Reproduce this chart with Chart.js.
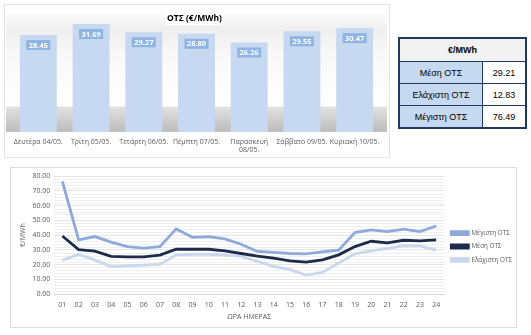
<!DOCTYPE html>
<html><head><meta charset="utf-8">
<script src="https://cdn.jsdelivr.net/npm/chart.js@4/dist/chart.umd.min.js"></script>
<style>
html,body{margin:0;padding:0;background:#fff;width:531px;height:335px;overflow:hidden;font-family:"Liberation Sans",Arial,sans-serif;}
#p1{position:absolute;left:4px;top:4px;width:386px;height:154px;border:1px solid #e3e3e3;box-sizing:border-box;}
#p2{position:absolute;left:10px;top:167px;width:507px;height:161px;border:1px solid #dcdcdc;box-sizing:border-box;}
#c1{position:absolute;left:5px;top:5px;}
#c2{position:absolute;left:11px;top:168px;}
canvas{display:block;}
#ttl{position:absolute;left:166px;top:10px;width:57px;height:15px;background:#fff;font:bold 8.5px "Open Sans",sans-serif;color:#000;text-align:center;line-height:15px;}
#tbl{position:absolute;left:398px;top:37px;border-collapse:collapse;border:2px solid #1f3864;font:9px "Liberation Sans",Arial,sans-serif;color:#000;}
#tbl td,#tbl th{border:1px solid #1f3864;text-align:center;padding:0;height:21px;}
#tbl th{background:#f2f2f2;font-weight:bold;height:22px;}
#tbl td.l{background:#c5d9f1;width:82px;}
#tbl td.v{background:#fff;width:42px;}
</style></head><body>
<div id="p1"></div>
<div id="p2"></div>
<canvas id="c1" width="384" height="155"></canvas>
<div id="ttl">ΟΤΣ (€/MWh)</div>
<table id="tbl"><tbody></tbody></table>
<canvas id="c2" width="511" height="159"></canvas>
<script>
const days = ['Δευτέρα 04/05.','Τρίτη 05/05.','Τετάρτη 06/05.','Πέμπτη 07/05.',['Παρασκευή','08/05.'],'Σάββατο 09/05.','Κυριακή 10/05.'];
const dayValues = [28.45,31.69,29.27,28.80,26.26,29.55,30.47];
const hours = ['01','02','03','04','05','06','07','08','09','10','11','12','13','14','15','16','17','18','19','20','21','22','23','24'];
const maxOTS  = [76.49,36.7,39.0,35.2,32.2,31.1,32.2,44.2,38.5,39.0,37.4,33.8,28.9,28.2,27.5,27.3,28.6,29.8,41.7,43.5,42.4,44.0,42.4,46.2];
const meanOTS = [39.4,30.2,29.1,25.5,25.2,25.2,26.4,30.4,30.4,30.4,29.3,27.5,25.7,24.3,22.5,21.6,23.2,26.6,32.2,35.8,34.7,36.5,36.1,36.7];
const minOTS  = [23.0,26.8,23.2,18.5,19.2,19.6,20.1,26.6,27.0,27.0,26.4,25.5,22.1,18.7,16.5,12.83,14.6,21.0,27.3,29.3,30.9,32.9,32.7,29.8];
const seriesNames = ['Μέγιστη ΟΤΣ','Μέση ΟΤΣ','Ελάχιστη ΟΤΣ'];
const tableHeader = '€/MWh';
const tableLabels = ['Μέση ΟΤΣ','Ελάχιστη ΟΤΣ','Μέγιστη ΟΤΣ'];
const tableValues = ['29.21','12.83','76.49'];

const tb = document.querySelector('#tbl tbody');
let h = '<tr><th colspan="2">'+tableHeader+'</th></tr>';
tableLabels.forEach((l,i)=>{ h += '<tr><td class="l">'+l+'</td><td class="v">'+tableValues[i]+'</td></tr>'; });
tb.innerHTML = h;

const bgShade = {
  id:'bgShade',
  beforeDatasetsDraw(chart){
    const {ctx, chartArea:a} = chart;
    ctx.save();
    let g = ctx.createLinearGradient(0,a.top,0,a.bottom);
    g.addColorStop(0,'#ffffff');
    g.addColorStop(0.15,'#eeeeee');
    g.addColorStop(0.35,'#f8f8f8');
    g.addColorStop(0.78,'#ffffff');
    g.addColorStop(0.8,'#e0e0e0');
    g.addColorStop(1,'#bcbcbc');
    ctx.fillStyle = g;
    ctx.fillRect(a.left-6,a.top,a.right-a.left+12,a.bottom-a.top);
    ctx.restore();
  }
};
const barLabels = {
  id:'barLabels',
  afterDatasetsDraw(chart){
    const {ctx} = chart;
    const meta = chart.getDatasetMeta(0);
    ctx.save();
    ctx.font = 'bold 7.5px "Open Sans",sans-serif';
    ctx.textAlign='center'; ctx.textBaseline='middle';
    meta.data.forEach((b,i)=>{
      const w=24,hh=10;
      ctx.fillStyle='#8db4e2';
      ctx.fillRect(b.x-w/2,b.y+5,w,hh);
      ctx.fillStyle='#ffffff';
      ctx.fillText(dayValues[i].toFixed(2), b.x, b.y+10.5);
    });
    ctx.restore();
  }
};
const minorGrid = {
  id:'minorGrid',
  beforeDatasetsDraw(chart){
    const {ctx, chartArea:a, scales:{y}} = chart;
    ctx.save();
    ctx.strokeStyle='#efefef'; ctx.lineWidth=1;
    for(let v=y.min; v<y.max; v+=2){
      if (v%10===0) continue;
      const py=Math.round(y.getPixelForValue(v))+0.5;
      ctx.beginPath(); ctx.moveTo(a.left,py); ctx.lineTo(a.right,py); ctx.stroke();
    }
    ctx.restore();
  }
};

new Chart(document.getElementById('c1'),{
  type:'bar',
  data:{labels:days,datasets:[{data:dayValues,backgroundColor:'#c6d9f1',barPercentage:0.7,categoryPercentage:1}]},
  options:{
    responsive:false,animation:false,
    layout:{padding:{left:7,right:8,top:6,bottom:0}},
    plugins:{legend:{display:false},tooltip:{enabled:false}},
    scales:{
      x:{grid:{display:false,drawTicks:false},border:{display:false},
         ticks:{color:'#595959',font:{family:'"Open Sans",sans-serif',size:7,lineHeight:1.15},maxRotation:0,autoSkip:false,padding:6}},
      y:{display:false,min:0,max:35.5}
    }
  },
  plugins:[bgShade,barLabels]
});

new Chart(document.getElementById('c2'),{
  type:'line',
  data:{labels:hours,datasets:[
    {label:seriesNames[0],data:maxOTS,borderColor:'#8eaadb',backgroundColor:'#8eaadb',borderWidth:2.8,pointRadius:0,tension:0},
    {label:seriesNames[1],data:meanOTS,borderColor:'#1c2b4a',backgroundColor:'#1c2b4a',borderWidth:2.8,pointRadius:0,tension:0},
    {label:seriesNames[2],data:minOTS,borderColor:'#c9d8ee',backgroundColor:'#c9d8ee',borderWidth:2.8,pointRadius:0,tension:0}
  ]},
  options:{
    responsive:false,animation:false,
    layout:{padding:{left:8,right:0,top:4,bottom:6}},
    plugins:{tooltip:{enabled:false},
      legend:{position:'right',align:'center',
        labels:{boxWidth:17,boxHeight:3,padding:7,color:'#595959',font:{family:'"Open Sans",sans-serif',size:6.3}}}},
    scales:{
      x:{offset:true,grid:{display:false,drawTicks:false},border:{color:'#d9d9d9'},
         afterFit:(s)=>{ s.height = 27; },
         ticks:{color:'#595959',font:{family:'"Open Sans",sans-serif',size:7},maxRotation:0,autoSkip:false,padding:7},
         title:{display:true,text:'ΩΡΑ ΗΜΕΡΑΣ',color:'#595959',font:{family:'"Open Sans",sans-serif',size:7},padding:{top:0,bottom:0}}},
      y:{min:0,max:80,grid:{color:'#e6e6e6',drawTicks:false},border:{display:false},
         ticks:{stepSize:10,padding:4,color:'#595959',font:{family:'"Open Sans",sans-serif',size:7},
           callback:(v)=> v.toFixed(2)},
         title:{display:true,text:'€/MWh',color:'#595959',font:{family:'"Open Sans",sans-serif',size:7},padding:{top:0,bottom:1}}}
    }
  },
  plugins:[minorGrid]
});
</script>
</body></html>
